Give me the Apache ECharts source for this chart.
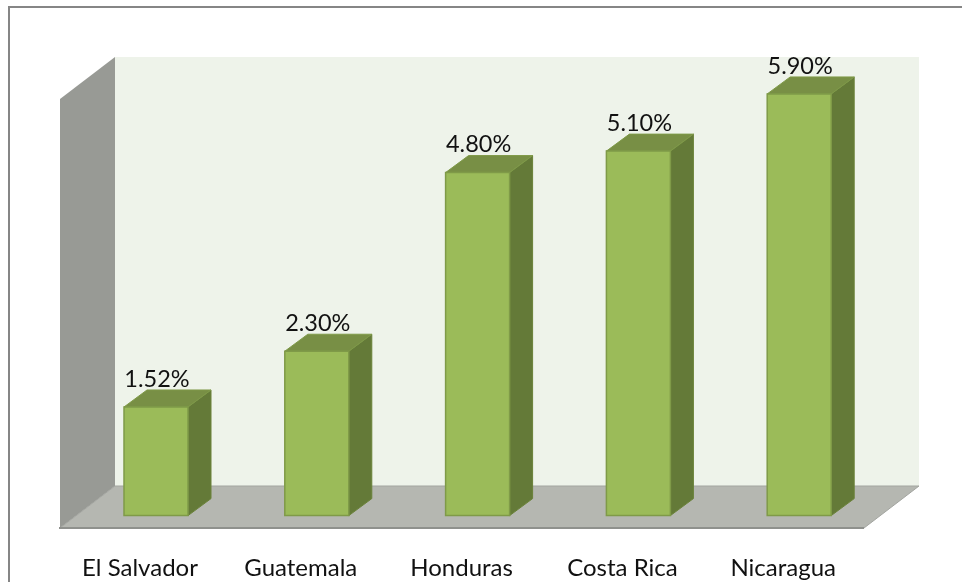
<!DOCTYPE html>
<html><head><meta charset="utf-8">
<style>html,body{margin:0;padding:0;background:#fff}#c{width:962px;height:582px}</style>
<script src="https://cdn.jsdelivr.net/npm/echarts@6/dist/echarts.min.js"></script>
</head><body><div id="c"></div>
<script>
const categories = ['El Salvador','Guatemala','Honduras','Costa Rica','Nicaragua'];
const values = [1.52,2.30,4.80,5.10,5.90];
const chart = echarts.init(document.getElementById('c'),null,{renderer:'canvas'});
const FONT = 'Lato, "Open Sans", sans-serif';
const DX=23, DY=17, BW=64;
function poly(points,fill,stroke,lw){
  return {type:'polygon',shape:{points},style:{fill,stroke:stroke||null,lineWidth:lw||0}};
}
chart.setOption({
  animation:false,
  backgroundColor:'#ffffff',
  grid:{left:75.6,right:82.4,top:86.8,height:428.8},
  graphic:[
    {type:'polyline',shape:{points:[[9,582],[9,7],[962,7]]},style:{fill:null,stroke:'#868686',lineWidth:2}}
  ],
  xAxis:{type:'category',data:categories,axisLine:{show:false},axisTick:{show:false},
    axisLabel:{fontFamily:FONT,fontSize:24,color:'#111',margin:41,padding:[0,32,0,0],interval:0}},
  yAxis:{type:'value',min:0,max:6,show:false,splitLine:{show:false}},
  series:[
    {type:'custom',coordinateSystem:'cartesian2d',silent:true,z:1,data:[[0,0]],encode:{x:0,y:1},
     renderItem(params,api){
       const g=params.coordSys, L=g.x-15.6, B=g.y+g.height+12.4, R=g.x+g.width-15.6, ddx=55, ddy=42;
       const T=g.y+12.2;
       return {type:'group',children:[
         {type:'rect',shape:{x:L+ddx,y:T-ddy,width:R-L,height:B-T},style:{fill:'#EEF3EA'}},
         poly([[L,T],[L+ddx,T-ddy],[L+ddx,B-ddy],[L,B]],'#989A95'),
         poly([[L,B],[L+ddx,B-ddy],[R+ddx,B-ddy],[R,B]],'#B5B7B1','#A3A5A0',1),
         {type:'line',shape:{x1:L-1,y1:B,x2:R,y2:B},style:{stroke:'#8F918D',lineWidth:2}}
       ]};
     }},
    {type:'custom',coordinateSystem:'cartesian2d',silent:true,z:2,data:values.map((v,i)=>[i,v]),encode:{x:0,y:1},
     renderItem(params,api){
       const top=api.coord([api.value(0),api.value(1)]), base=api.coord([api.value(0),0]);
       const x0=top[0]-BW/2,x1=top[0]+BW/2,y0=top[1],y1=base[1];
       const edge='#7F9A48';
       return {type:'group',children:[
         poly([[x1,y0],[x1+DX,y0-DY],[x1+DX,y1-DY],[x1,y1]],'#647A38','#6A8239',1),
         poly([[x0,y0],[x0+DX,y0-DY],[x1+DX,y0-DY],[x1,y0]],'#788F45','#7F9A48',1),
         {type:'rect',shape:{x:x0,y:y0,width:BW,height:y1-y0},style:{fill:'#9BBB59',stroke:edge,lineWidth:1.5}},
         {type:'text',z2:10,style:{text:api.value(1).toFixed(2)+'%',x:top[0]+1,y:y0-16,align:'center',verticalAlign:'bottom',
           fontFamily:FONT,fontSize:23.5,fill:'#111'}}
       ]};
     }}
  ]
});
</script></body></html>
